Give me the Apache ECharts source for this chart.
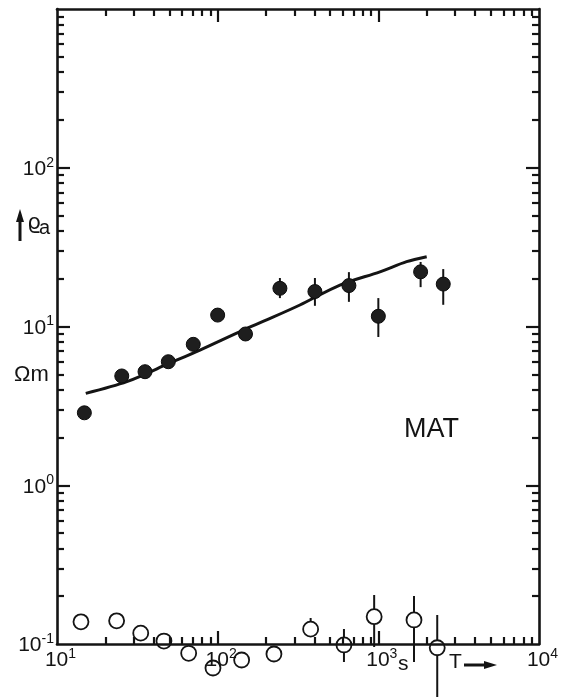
<!DOCTYPE html>
<html><head><meta charset="utf-8">
<script src="https://cdn.jsdelivr.net/npm/echarts@6/dist/echarts.min.js"></script>
<style>html,body{margin:0;padding:0;background:#fff}#c{width:568px;height:697px}</style>
</head><body><div id="c"></div>
<script>
// ---- data (period T in s, apparent resistivity in ohm-m) ----
const filledT   = [14.8, 25.3, 35.3, 49.3, 70.5, 100, 149, 244, 403, 656, 1000, 1833, 2535];
const filledRho = [2.86, 4.88, 5.19, 6.00, 7.72, 11.8, 8.97, 17.4, 16.6, 18.1, 11.6, 22.1, 18.5];
const filledErrT    = [244, 403, 656, 1000, 1833, 2535];
const filledErrLow  = [15.1, 13.5, 14.3, 8.59, 17.7, 13.7];
const filledErrHigh = [20.2, 20.2, 22.0, 15.1, 25.5, 23.0];

const openT   = [14.1, 23.5, 33.2, 46.3, 66.0, 93.5, 141, 224, 379, 611, 942, 1667, 2326];
const openRho = [0.138, 0.140, 0.117, 0.1044, 0.0874, 0.0706, 0.0793, 0.0865, 0.124, 0.0986, 0.1486, 0.1417, 0.0947];
const openErrT    = [379, 611, 942, 1667, 2326];
const openErrLow  = [0.1107, 0.0770, 0.0957, 0.0770, 0.0440];
const openErrHigh = [0.1458, 0.1243, 0.2035, 0.2006, 0.1523];

const curveT   = [15.1, 27.2, 50.5, 77.6, 144.3, 201.8, 325, 577, 1023, 1500, 2000];
const curveRho = [3.79, 4.49, 5.89, 7.11, 9.50, 11.0, 13.66, 18.25, 22.1, 25.6, 27.5];

const xLabelVals = [10, 100, 1000, 10000];
const xLabelExp  = ['1', '2', '3', '4'];
const yLabelVals = [0.1, 1, 10, 100];
const yLabelExp  = ['-1', '0', '1', '2'];
const xMajorTicks = [100, 1000];
const yMajorTicks = [1, 10, 100];
const xDecades = [10, 100, 1000];
const yDecades = [0.1, 1, 10, 100];
const minorTicks = ds => { const r = []; ds.forEach(d => { for (let k = 2; k <= 9; k++) r.push(+(k * d).toPrecision(3)); }); return r; };
const xMinorTicks = minorTicks(xDecades);
const yMinorTicks = minorTicks(yDecades);

const INK = '#141414';
const FONT = '"Liberation Sans", Arial, Helvetica, sans-serif';
const rich = {
  p: { width: 7 },
  b: { fontSize: 21, fontFamily: FONT, color: INK, lineHeight: 24, verticalAlign: 'bottom' },
  s: { fontSize: 14, fontFamily: FONT, color: INK, lineHeight: 14, verticalAlign: 'top' }
};
const expOf = (vals, exps, v) => { for (let i = 0; i < vals.length; i++) if (Math.abs(Math.log10(v) - Math.log10(vals[i])) < 1e-6) return exps[i]; return ''; };

function logAxis(kind, pos, isMajor, withLabels) {
  const isX = kind === 'x';
  const ax = {
    type: 'log', logBase: 10, position: pos,
    min: isX ? 10 : 0.1, max: isX ? 10000 : 1000,
    axisLine: { show: isMajor, lineStyle: { color: INK, width: 2.6 } },
    axisTick: {
      show: true, inside: true, length: isMajor ? 13 : 7,
      customValues: isMajor ? (isX ? xMajorTicks : yMajorTicks) : (isX ? xMinorTicks : yMinorTicks),
      lineStyle: { color: INK, width: 2.2 }
    },
    axisLabel: { show: false },
    splitLine: { show: false },
    minorTick: { show: false }, minorSplitLine: { show: false }
  };
  if (withLabels) {
    ax.axisLabel = {
      show: true, showMinLabel: true, showMaxLabel: true,
      customValues: isX ? xLabelVals : yLabelVals,
      margin: isX ? 3 : 3,
      formatter: isX
        ? v => '{p|}{b|10}{s|' + expOf(xLabelVals, xLabelExp, v) + '}'
        : v => '{b|10}{s|' + expOf(yLabelVals, yLabelExp, v) + '}',
      rich: rich
    };
  }
  return ax;
}

const chart = echarts.init(document.getElementById('c'), null, { renderer: 'canvas' });

function errRenderer(gap) {
  return function (params, api) {
    const x = api.value(0);
    const pLo = api.coord([x, api.value(1)]);
    const pHi = api.coord([x, api.value(2)]);
    const pC = api.coord([x, api.value(3)]);
    const st = { stroke: INK, lineWidth: 2 };
    return {
      type: 'group', children: [
        { type: 'line', shape: { x1: pHi[0], y1: pHi[1], x2: pC[0], y2: Math.max(pHi[1], pC[1] - gap) }, style: st },
        { type: 'line', shape: { x1: pC[0], y1: Math.min(pLo[1], pC[1] + gap), x2: pLo[0], y2: pLo[1] }, style: st }
      ]
    };
  };
}
const centerAt = (ts, rhos, t) => rhos[ts.indexOf(t)];

chart.setOption({
  backgroundColor: '#ffffff',
  animation: false,
  grid: { left: 57, right: 29, top: 9, bottom: 53, containLabel: false, outerBoundsMode: 'none' },
  xAxis: [
    logAxis('x', 'bottom', true, true),
    logAxis('x', 'bottom', false, false),
    logAxis('x', 'top', true, false),
    logAxis('x', 'top', false, false)
  ],
  yAxis: [
    logAxis('y', 'left', true, true),
    logAxis('y', 'left', false, false),
    logAxis('y', 'right', true, false),
    logAxis('y', 'right', false, false)
  ],
  series: [
    {
      type: 'line', name: 'model', xAxisIndex: 0, yAxisIndex: 0,
      data: curveT.map((t, i) => [t, curveRho[i]]),
      smooth: 0.3, showSymbol: false, symbol: 'none', clip: false,
      lineStyle: { color: INK, width: 3 }, z: 3
    },
    {
      type: 'custom', name: 'err-filled', xAxisIndex: 0, yAxisIndex: 0, clip: false,
      data: filledErrT.map((t, i) => [t, filledErrLow[i], filledErrHigh[i], centerAt(filledT, filledRho, t)]),
      renderItem: errRenderer(0), z: 4
    },
    {
      type: 'custom', name: 'err-open', xAxisIndex: 0, yAxisIndex: 0, clip: false,
      data: openErrT.map((t, i) => [t, openErrLow[i], openErrHigh[i], centerAt(openT, openRho, t)]),
      renderItem: errRenderer(7.5), z: 4
    },
    {
      type: 'scatter', name: 'rho_a', xAxisIndex: 0, yAxisIndex: 0, clip: false,
      data: filledT.map((t, i) => [t, filledRho[i]]),
      symbol: 'circle', symbolSize: 14,
      itemStyle: { color: '#1e1e1e', borderColor: '#0c0c0c', borderWidth: 1, opacity: 1 }, z: 5
    },
    {
      type: 'scatter', name: 'open', xAxisIndex: 0, yAxisIndex: 0, clip: false,
      data: openT.map((t, i) => [t, openRho[i]]),
      symbol: 'circle', symbolSize: 15,
      itemStyle: { color: 'rgba(0,0,0,0)', borderColor: INK, borderWidth: 1.8, opacity: 1 }, z: 5
    }
  ],
  graphic: [
    { type: 'line', shape: { x1: 20, y1: 220, x2: 20, y2: 241 }, style: { stroke: INK, lineWidth: 3 } },
    { type: 'polygon', shape: { points: [[16, 222], [20, 209], [24, 222]] }, style: { fill: INK } },
    { type: 'text', left: 27, top: 212, style: { text: 'ϱ', font: '22px "DejaVu Sans", sans-serif', fill: INK } },
    { type: 'text', left: 39, top: 218, style: { text: 'a', font: '20px ' + FONT, fill: INK } },
    { type: 'text', left: 14, top: 364, style: { text: 'Ωm', font: '22px ' + FONT, fill: INK } },
    { type: 'text', left: 404, top: 416, style: { text: 'MAT', font: '27px ' + FONT, fill: INK } },
    { type: 'text', left: 398, top: 654, style: { text: 's', font: '21px ' + FONT, fill: INK } },
    { type: 'text', left: 449, top: 652, style: { text: 'T', font: '21px ' + FONT, fill: INK } },
    { type: 'line', shape: { x1: 464, y1: 665, x2: 487, y2: 665 }, style: { stroke: INK, lineWidth: 3 } },
    { type: 'polygon', shape: { points: [[484, 661], [497, 665], [484, 669]] }, style: { fill: INK } }
  ]
});
</script>
</body></html>
